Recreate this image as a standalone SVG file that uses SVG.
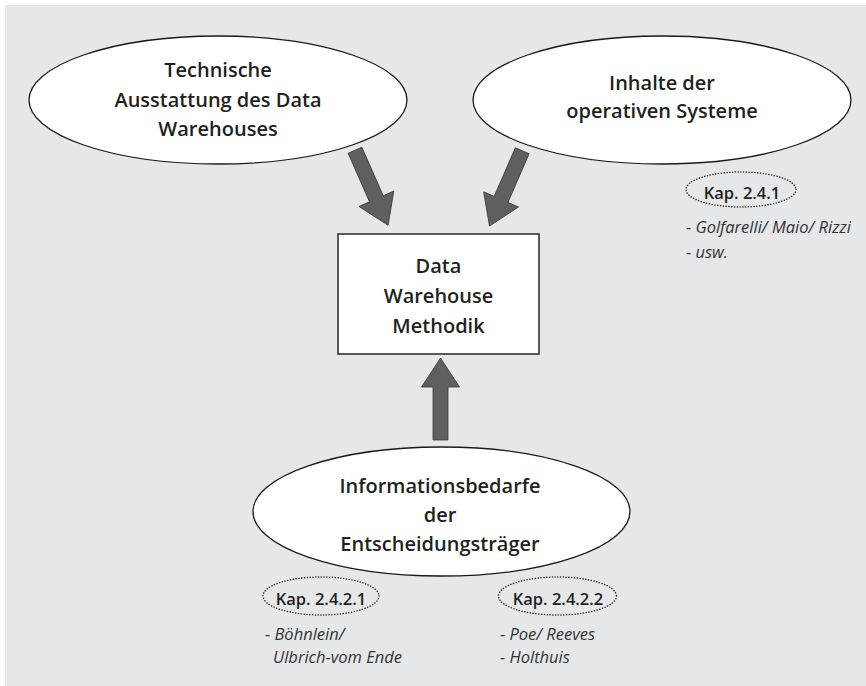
<svg xmlns="http://www.w3.org/2000/svg" width="866" height="686" viewBox="0 0 866 686">
  <defs>
    <!-- block arrow pointing along +x, tail at origin -->
    <polygon id="blockArrow" points="0,-7.5 53,-7.5 53,-19 82,0 53,19 53,7.5 0,7.5"/>
  </defs>
  <style>
    .bg { fill: #e6e7e9; }
    .oval { fill: #ffffff; stroke: #1a1a1a; stroke-width: 1.3; }
    .box { fill: #ffffff; stroke: #333333; stroke-width: 1.6; }
    .ref { fill: none; stroke: #2a2a2a; stroke-width: 1.5; stroke-dasharray: 0.1 2.7; stroke-linecap: round; }
    .arrow { fill: #5e5f61; stroke: #3a3a3a; stroke-width: 0.8; stroke-linejoin: miter; }
    .main { font-family: "Open Sans", "Liberation Sans", sans-serif; font-weight: 600; font-size: 20px; fill: #231f20; text-anchor: middle; }
    .kap { font-family: "Open Sans", "Liberation Sans", sans-serif; font-weight: 600; font-size: 16.5px; fill: #231f20; text-anchor: middle; }
    .lit { font-family: "Open Sans", "Liberation Sans", sans-serif; font-style: italic; font-size: 16.5px; fill: #333333; }
  </style>

  <rect class="bg" x="5" y="5" width="861" height="681"/>

  <!-- connectors -->
  <g id="connectors">
    <use href="#blockArrow" class="arrow" transform="translate(355,150.3) rotate(66.2)"/>
    <use href="#blockArrow" class="arrow" transform="translate(522.2,150.8) rotate(113.5)"/>
    <use href="#blockArrow" class="arrow" transform="translate(440.5,440) rotate(-90)"/>
  </g>

  <g id="technik">
    <ellipse class="oval" cx="218" cy="100" rx="189" ry="64"/>
    <text class="main" x="218" y="77">Technische</text>
    <text class="main" x="218" y="107">Ausstattung des Data</text>
    <text class="main" x="218" y="136">Warehouses</text>
  </g>

  <g id="operativ">
    <ellipse class="oval" cx="662" cy="100" rx="189" ry="64"/>
    <text class="main" x="662" y="90">Inhalte der</text>
    <text class="main" x="662" y="118">operativen Systeme</text>
  </g>

  <g id="kap241">
    <ellipse class="ref" cx="741" cy="189.5" rx="55" ry="17.5"/>
    <text class="kap" x="742" y="199">Kap. 2.4.1</text>
    <text class="lit" x="686" y="233">- Golfarelli/ Maio/ Rizzi</text>
    <text class="lit" x="686" y="258">- usw.</text>
  </g>

  <g id="methodik">
    <rect class="box" x="338" y="234" width="201" height="120"/>
    <text class="main" x="438.5" y="273">Data</text>
    <text class="main" x="438.5" y="303">Warehouse</text>
    <text class="main" x="438.5" y="333">Methodik</text>
  </g>

  <g id="bedarfe">
    <ellipse class="oval" cx="441.5" cy="511.5" rx="188.5" ry="64.5"/>
    <text class="main" x="440" y="493">Informationsbedarfe</text>
    <text class="main" x="440" y="522">der</text>
    <text class="main" x="440" y="551">Entscheidungsträger</text>
  </g>

  <g id="kap2421">
    <ellipse class="ref" cx="321" cy="596" rx="58" ry="19"/>
    <text class="kap" x="321" y="605">Kap. 2.4.2.1</text>
    <text class="lit" x="265" y="640">- Böhnlein/</text>
    <text class="lit" x="273" y="663">Ulbrich-vom Ende</text>
  </g>

  <g id="kap2422">
    <ellipse class="ref" cx="557.5" cy="596" rx="59" ry="19"/>
    <text class="kap" x="558" y="605">Kap. 2.4.2.2</text>
    <text class="lit" x="500" y="640">- Poe/ Reeves</text>
    <text class="lit" x="500" y="663">- Holthuis</text>
  </g>
</svg>
